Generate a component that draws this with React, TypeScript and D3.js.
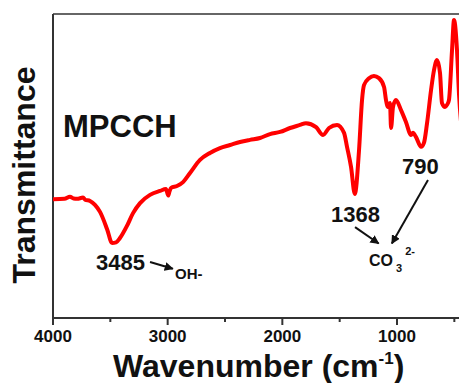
import React from "react";
import * as d3 from "d3";

// IR spectrum (wavenumber cm-1, transmittance a.u.)
const wavenumbers = [
  4000, 3900, 3852, 3820, 3790, 3738, 3720, 3677, 3634, 3590, 3529, 3485, 3450, 3416, 3355,
  3302, 3241, 3154, 3067, 3015, 2995, 2985, 2970, 2919, 2866, 2805, 2718, 2631, 2544, 2456,
  2369, 2282, 2195, 2108, 2020, 1933, 1846, 1794, 1706, 1645, 1593, 1523, 1462, 1436, 1401,
  1368, 1331, 1305, 1288, 1244, 1201, 1157, 1113, 1096, 1079, 1061, 1052, 1035, 1009, 965,
  922, 878, 861, 834, 790, 765, 738, 703, 677, 651, 625, 608, 581, 564, 547, 520, 503, 477,
  459, 430,
];
const transmittance = [
  39.1, 39.2, 39.9, 39.3, 39.2, 39.6, 38.9, 38.5, 37.2, 34.9, 29.3, 24.7, 24.9, 26.3, 30.3,
  34.5, 37.8, 40.5, 41.8, 42.4, 40.3, 41.5, 42.8, 43.4, 44.7, 47.7, 52.0, 54.3, 55.9, 56.9,
  57.9, 58.6, 59.2, 60.5, 61.2, 62.5, 63.5, 64.1, 62.8, 60.2, 62.5, 63.5, 60.9, 56.3, 49.7,
  40.8, 55.3, 71.7, 76.6, 78.9, 79.6, 78.9, 76.0, 71.7, 69.4, 70.7, 62.5, 69.4, 71.7, 68.4,
  64.5, 60.2, 60.9, 59.5, 56.3, 57.6, 64.1, 75.0, 81.6, 84.9, 80.6, 70.7, 69.4, 70.1, 71.7,
  88.2, 98.0, 88.2, 73.4, 60.0,
];

const majorTicks = [4000, 3000, 2000, 1000];
const minorTicks = [3500, 2500, 1500, 500];

const W = 459;
const H = 383;
const left = 53;
const top = 14;
const bottom = 318;
const font = "'Liberation Sans', Arial, sans-serif";

export default function App() {
  const x = d3.scaleLinear().domain([4000, 400]).range([left, left + 3600 * 0.11467]);
  const y = d3.scaleLinear().domain([0, 100]).range([bottom, top]);

  const pts = wavenumbers.map((w, i) => [w, transmittance[i]] as [number, number]);
  const line = d3
    .line<[number, number]>()
    .x(d => x(d[0]))
    .y(d => y(d[1]))
    .curve(d3.curveMonotoneX);

  const arrows = [
    { from: [3154, 18.4], to: [2955, 16.2] },
    { from: [1366, 29.9], to: [1160, 24.5] },
    { from: [730, 45.4], to: [1045, 24.5] },
  ];

  return (
    <svg width={W} height={H} style={{ position: "absolute", left: 0, top: 0, background: "#fff" }}>
      <defs>
        <clipPath id="plot">
          <rect x={left} y={top - 6} width={W - left} height={bottom - top + 6} />
        </clipPath>
        <marker id="head" viewBox="0 0 10 10" refX="9" refY="5" markerWidth="4.5" markerHeight="4.5" orient="auto">
          <path d="M0,0 L10,5 L0,10 z" fill="#111" />
        </marker>
      </defs>

      {/* frame */}
      <line x1={left} x2={W} y1={top} y2={top} stroke="#333" strokeWidth={1.5} />
      <line x1={left} x2={left} y1={top} y2={bottom} stroke="#333" strokeWidth={2} />
      <line x1={left} x2={W} y1={bottom} y2={bottom} stroke="#333" strokeWidth={2} />

      {majorTicks.map(t => (
        <g key={t}>
          <line x1={x(t)} x2={x(t)} y1={bottom} y2={bottom + 7} stroke="#333" strokeWidth={2} />
          <text x={x(t)} y={342} textAnchor="middle" fontFamily={font} fontWeight="bold" fontSize={17} fill="#111">
            {t}
          </text>
        </g>
      ))}
      {minorTicks.map(t => (
        <line key={t} x1={x(t)} x2={x(t)} y1={bottom} y2={bottom + 4} stroke="#333" strokeWidth={2} />
      ))}

      <g clipPath="url(#plot)">
        <path d={line(pts) || ""} fill="none" stroke="#f00" strokeWidth={4} strokeLinejoin="round" />
      </g>

      {/* annotations */}
      {arrows.map((a, i) => (
        <line
          key={i}
          x1={x(a.from[0])}
          y1={y(a.from[1])}
          x2={x(a.to[0])}
          y2={y(a.to[1])}
          stroke="#111"
          strokeWidth={2}
          markerEnd="url(#head)"
        />
      ))}
      <g fontFamily={font} fontWeight="bold" fill="#111">
        <text x={x(3625)} y={y(15.8)} fontSize={22}>3485</text>
        <text x={x(2936)} y={y(12.8)} fontSize={15}>OH-</text>
        <text x={x(1576)} y={y(31.6)} fontSize={22}>1368</text>
        <text x={x(957)} y={y(47.4)} fontSize={22}>790</text>
        <text x={x(1244)} y={y(17.1)} fontSize={16}>
          CO
          <tspan fontSize={11} dx={3} dy={6}>3</tspan>
          <tspan fontSize={11} dx={3} dy={-17}>2-</tspan>
        </text>
      </g>

      <text x={63} y={137} fontFamily={font} fontWeight="bold" fontSize={31} fill="#111">MPCCH</text>

      <text
        transform={`translate(35,175) rotate(-90)`}
        textAnchor="middle"
        fontFamily={font}
        fontWeight="bold"
        fontSize={32}
        fill="#111"
      >
        Transmittance
      </text>

      <text x={113} y={377} fontFamily={font} fontWeight="bold" fontSize={32} fill="#111">
        Wavenumber (cm
        <tspan fontSize={17} dy={-13}>-1</tspan>
        <tspan dy={13}>)</tspan>
      </text>
    </svg>
  );
}
